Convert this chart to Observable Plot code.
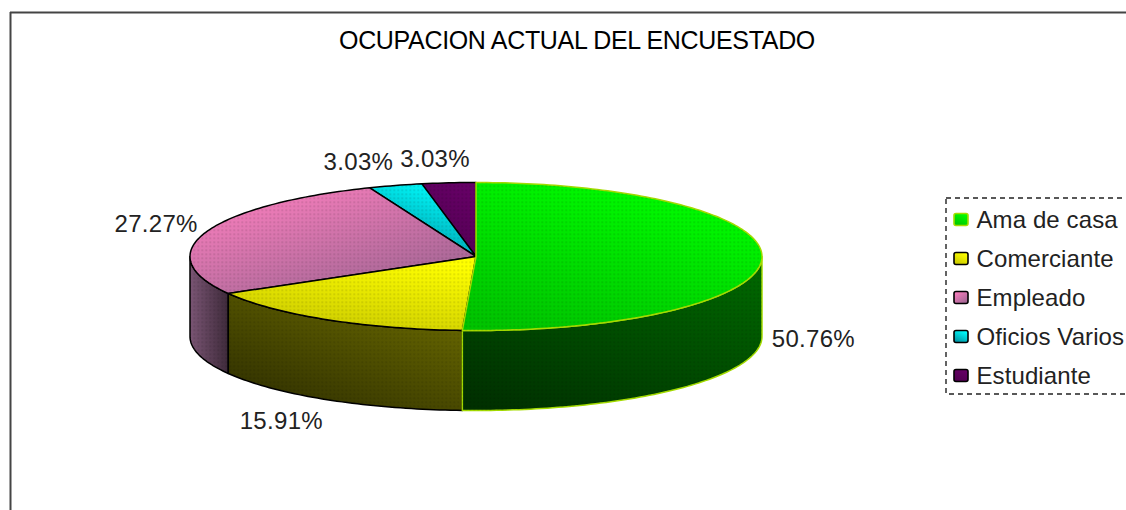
<!DOCTYPE html>
<html><head><meta charset="utf-8">
<script src="https://cdn.jsdelivr.net/npm/d3@7"></script>
<script src="https://cdn.jsdelivr.net/npm/@observablehq/plot@0.6"></script>
<style>
html,body{margin:0;padding:0;background:#fff;overflow:hidden}
svg{display:block}
</style></head><body>
<script>
const title = "OCUPACION ACTUAL DEL ENCUESTADO";
const categories = ["Ama de casa","Comerciante","Empleado","Oficios Varios","Estudiante"];
const values = [50.76,15.91,27.27,3.03,3.03];
const strokes = ["#a4dc00","#000","#000","#000","#000"];
const topStops = [["#00ff00","#00c400"],["#ffff00","#c8c800"],["#ff80c0","#9a6490"],["#00ffff","#0090a0"],["#660066","#4f004f"]];
const sideStops = [["#003000","#006800"],["#2e2e00","#6c6c00"],["#7a5574","#3e2a3a"],["#005050","#008080"],["#400040","#300030"]];

const W = 1126, H = 510;
const cx = 475.5, cy = 256, rx = 286, ry = 74, depth = 80;
const total = d3.sum(values);
const pt = (a, d = 0) => ({x: cx + rx * Math.sin(a), y: cy - ry * Math.cos(a) + d});
const arcPts = (a0, a1, d = 0) => {
  const n = Math.max(2, Math.ceil(Math.abs(a1 - a0) / 0.02));
  return d3.range(n + 1).map(i => pt(a0 + (a1 - a0) * i / n, d));
};
let acc = 0;
const slices = values.map((v, i) => {
  const a0 = acc / total * 2 * Math.PI;
  acc += v;
  return {i, v, a0, a1: acc / total * 2 * Math.PI};
});
const topPoly = s => [{x: cx, y: cy}, ...arcPts(s.a0, s.a1)];
const sidePoly = s => {
  const a0 = Math.max(s.a0, Math.PI / 2), a1 = Math.min(s.a1, 3 * Math.PI / 2);
  if (a1 <= a0) return null;
  return [...arcPts(a0, a1), ...arcPts(a1, a0, depth)];
};
const lineStyle = s => ({x: "x", y: "y", curve: "linear-closed", stroke: strokes[s.i], strokeWidth: 1.5});
const sideOrder = [...slices].reverse().filter(s => sidePoly(s));
const topOrder = [...slices].reverse();

const labelPos = s => {
  const m = (s.a0 + s.a1) / 2, c = Math.cos(m), c4 = c * c * c * c;
  const k = 1.18 + (c < 0 ? .24 : .33) * c4;
  const lift = c < 0 ? 1.35 : 1.32;
  const below = c < .1;
  return {x: cx + rx * k * Math.sin(m), y: cy - ry * lift * c + (below ? depth : 0), t: s.v.toFixed(2) + "%"};
};
const legendX = 961, legendTop = 219.5, legendStep = 39;
const legend = categories.map((c, i) => ({c, i, x: legendX, y: legendTop + i * legendStep}));

const dither = d => Plot.line(d, {x: "x", y: "y", curve: "linear-closed", fill: "url(#dither)"});

const plot = Plot.plot({
  width: W, height: H, margin: 0,
  x: {domain: [0, W], range: [0, W], axis: null},
  y: {domain: [0, H], range: [0, H], axis: null},
  style: {fontFamily: "'Liberation Sans',Arial,sans-serif", background: "#fff"},
  marks: [
    Plot.ruleY([12], {x1: 10, x2: W, stroke: "#444", strokeWidth: 2}),
    Plot.ruleX([10], {y1: 12, y2: H, stroke: "#444", strokeWidth: 2}),
    ...sideOrder.flatMap(s => [
      Plot.line(sidePoly(s), {...lineStyle(s), fill: `url(#side${s.i})`}),
      dither(sidePoly(s))
    ]),
    ...topOrder.flatMap(s => [
      Plot.line(topPoly(s), {...lineStyle(s), fill: `url(#top${s.i})`}),
      dither(topPoly(s))
    ]),
    Plot.text(slices.map(labelPos), {x: "x", y: "y", text: "t", fontSize: 24, fill: "#222"}),
    Plot.text([title], {x: [576.5], y: [40], fontSize: 25, fill: "#000"}),
    Plot.rect([0], {x1: [946], x2: [1140], y1: [198], y2: [394], fill: "none", stroke: "#222", strokeWidth: 1.4, strokeDasharray: "5,4"}),
    ...legend.map(d => Plot.rect([d], {
      x1: r => r.x - 7, x2: r => r.x + 7, y1: r => r.y - 6, y2: r => r.y + 6,
      fill: `url(#top${d.i})`, stroke: strokes[d.i], strokeWidth: 1.6, rx: 2
    })),
    Plot.text(legend, {x: d => d.x + 15, y: "y", text: "c", textAnchor: "start", fontSize: 24, fill: "#222"})
  ]
});
const svg = d3.select(plot);
svg.selectAll("text").each(function () {
  const t = this.textContent;
  const spacing = t === title ? -.33 : categories.includes(t) ? .1 : .3;
  d3.select(this).attr("letter-spacing", spacing);
});
const defs = svg.insert("defs", ":first-child");
const grad = (id, stops, x1, y1, x2, y2) => {
  const g = defs.append("linearGradient").attr("id", id)
    .attr("x1", x1).attr("y1", y1).attr("x2", x2).attr("y2", y2);
  g.append("stop").attr("offset", "0%").attr("stop-color", stops[0]);
  g.append("stop").attr("offset", "100%").attr("stop-color", stops[1]);
};
topStops.forEach((s, i) => grad(`top${i}`, s, i === 2 ? .1 : .7, 0, i === 2 ? .9 : .2, 1));
sideStops.forEach((s, i) => i === 2 ? grad(`side${i}`, s, 0, 0, 1, 0) : grad(`side${i}`, s, .1, 1, .9, 0));
const p = defs.append("pattern").attr("id", "dither").attr("width", 4).attr("height", 4).attr("patternUnits", "userSpaceOnUse");
p.append("rect").attr("x", 1).attr("y", 1).attr("width", 1.4).attr("height", 1.4).attr("fill", "#000").attr("fill-opacity", .18);
document.body.appendChild(plot);
</script>
</body></html>
